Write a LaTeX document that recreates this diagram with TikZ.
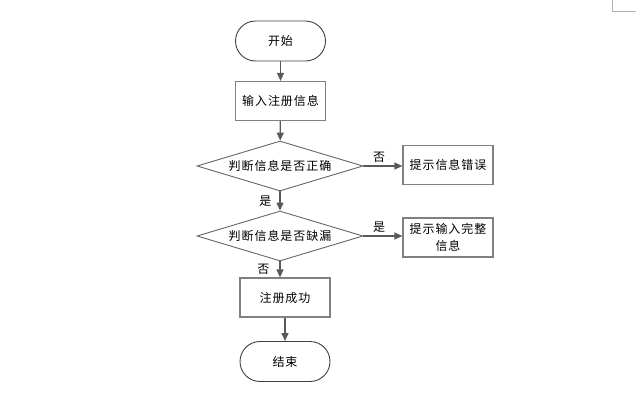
\documentclass[tikz,border=0pt]{standalone}
\usepackage{fontspec}
\setmainfont[LetterSpace=8]{Noto Sans CJK SC}
\usetikzlibrary{shapes.geometric,arrows.meta}

\begin{document}
\begin{tikzpicture}[x=1pt,y=-1pt,
    font=\fontsize{12}{17}\selectfont,
    term/.style={draw=black!75, line width=0.9pt, rounded corners=20pt,
        minimum width=90pt, minimum height=40pt, inner sep=0pt},
    proc/.style={draw=black!50, line width=1.2pt,
        minimum width=90pt, minimum height=39pt, inner sep=0pt},
    decide/.style={draw=black!60, line width=0.9pt, diamond, aspect=3.3,
        minimum width=166pt, minimum height=50pt, inner sep=0pt},
    flow/.style={draw=black!65, line width=1.2pt, -{Triangle[length=8pt,width=7pt]}},
    lbl/.style={inner sep=1pt}]
    \useasboundingbox (0,0) rectangle (641,399);
    % corner mark
    \draw[black!30, line width=0.8pt] (612,0) -- (612,11) -- (636,11);
    % main column
    \node[term]   (start) at (280.5,41)  {开始};
    \node[proc]   (input) at (280.5,101) {输入注册信息};
    \node[decide] (chk1)  at (280,166)   {判断信息是否正确};
    \node[decide] (chk2)  at (280,236)   {判断信息是否缺漏};
    \node[proc]   (ok)    at (285,297.5) {注册成功};
    \node[term]   (stop)  at (285,361.5) {结束};
    % side boxes
    \node[proc]   (err)   at (448,165)   {提示信息错误};
    \node[proc, align=center] (more) at (448,237.5) {提示输入完整\\信息};
    % connectors
    \draw[flow] (start) -- (input);
    \draw[flow] (input) -- (chk1);
    \draw[flow] (chk1) -- node[lbl, pos=0.4, above=2pt] {否} (err.west |- chk1.east);
    \draw[flow] (chk1) -- node[lbl, midway, left=7pt] {是} (chk2);
    \draw[flow] (chk2) -- node[lbl, pos=0.4, above=2pt] {是} (more.west |- chk2.east);
    \draw[flow] (chk2.south) -- node[lbl, midway, left=9pt] {否} (chk2.south |- ok.north);
    \draw[flow] (ok) -- (stop);
\end{tikzpicture}
\end{document}
